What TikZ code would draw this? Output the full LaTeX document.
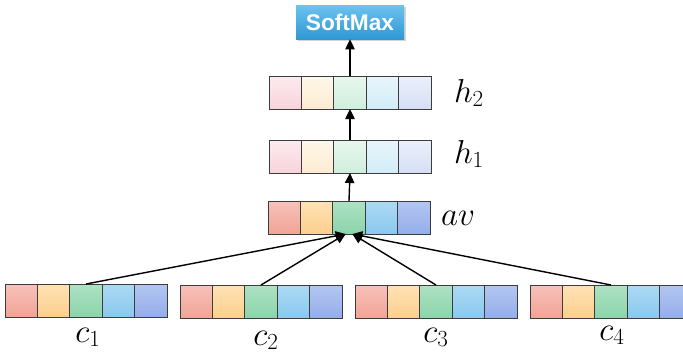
\documentclass[tikz,border=0pt]{standalone}
\usepackage{fontspec}
\newfontfamily\boldsans{Liberation Sans}
\usetikzlibrary{arrows.meta,shadows}
\definecolor{rT}{HTML}{F7C2BA}\definecolor{rB}{HTML}{F2A396}
\definecolor{oT}{HTML}{FEE2B4}\definecolor{oB}{HTML}{FCCF8E}
\definecolor{gT}{HTML}{AEE2C4}\definecolor{gB}{HTML}{8BD4AA}
\definecolor{bT}{HTML}{ACDAF4}\definecolor{bB}{HTML}{8AC8EE}
\definecolor{pT}{HTML}{B4C6F2}\definecolor{pB}{HTML}{94AEEA}
\definecolor{rTl}{HTML}{FCEBEE}\definecolor{rBl}{HTML}{F8D3DB}
\definecolor{oTl}{HTML}{FFF7EA}\definecolor{oBl}{HTML}{FDEBD2}
\definecolor{gTl}{HTML}{E8F7EE}\definecolor{gBl}{HTML}{D0EEDC}
\definecolor{bTl}{HTML}{E9F5FC}\definecolor{bBl}{HTML}{D2ECF8}
\definecolor{pTl}{HTML}{EBF0FA}\definecolor{pBl}{HTML}{D5DFF5}
\definecolor{smT}{HTML}{6CC3EE}\definecolor{smB}{HTML}{2F98D4}
\definecolor{edge}{HTML}{3C3C3C}
\tikzset{
  cell/.style={draw=edge, line width=0.75pt, minimum width=24.3pt, minimum height=24.75pt,
    inner sep=0pt, outer sep=0pt, anchor=north west},
  r/.style={top color=rT, bottom color=rB}, o/.style={top color=oT, bottom color=oB},
  g/.style={top color=gT, bottom color=gB}, b/.style={top color=bT, bottom color=bB},
  p/.style={top color=pT, bottom color=pB},
  rl/.style={top color=rTl, bottom color=rBl}, ol/.style={top color=oTl, bottom color=oBl},
  gl/.style={top color=gTl, bottom color=gBl}, bl/.style={top color=bTl, bottom color=bBl},
  pl/.style={top color=pTl, bottom color=pBl},
  lab/.style={anchor=base, inner sep=0pt, font=\fontsize{24}{26}\selectfont},
  arr/.style={line width=1.05pt, -{Triangle[length=7.5pt,width=7pt]}},
  smbox/.style={top color=smT, bottom color=smB, draw=none, minimum width=81pt,
    minimum height=25.5pt, inner sep=0pt, font=\boldsans\bfseries\fontsize{17}{18}\selectfont,
    text=white, drop shadow={shadow xshift=1.2pt, shadow yshift=-1.2pt, opacity=0.35}}
}
\newcommand{\cellrow}[4]{% name, x, y, suffix
  \foreach \i/\c in {1/r,2/o,3/g,4/b,5/p}{
    \node[cell, \c#4] (#1-\i) at ({#2+(\i-1)*32.4},#3) {};
  }
}
\begin{document}
\begin{tikzpicture}[x=0.75pt,y=-0.75pt]
\useasboundingbox (0,0) rectangle (683,354);
\begin{scope}
\clip (0,0) rectangle (683,354);
% bottom rows
\cellrow{ca}{5}{284}{}
\cellrow{cb}{180}{285}{}
\cellrow{cc}{355}{285}{}
\cellrow{cd}{530}{285}{}
% upper rows
\cellrow{av}{268}{201}{}
\cellrow{ha}{269}{140}{l}
\cellrow{hb}{269}{76}{l}
\end{scope}
% softmax
\node[smbox] (sm) at (350,22) {SoftMax};
% labels
\node[lab] (lc1) at (88,342) {$c_1$};
\node[lab] (lc2) at (266,345) {$c_2$};
\node[lab] (lc3) at (436,342) {$c_3$};
\node[lab] (lc4) at (612,340) {$c_4$};
\node[lab] (lav) at (458,225) {$av$};
\node[lab] (lh1) at (469,163) {$h_1$};
\node[lab] (lh2) at (469,102) {$h_2$};
% arrows
\coordinate (inL) at ([xshift=-2.5pt]av-3.south);
\coordinate (inR) at ([xshift=2.5pt]av-3.south);
\draw[arr] (ca-3.north) -- (inL);
\draw[arr] (cb-3.north) -- (inL);
\draw[arr] (cc-3.north) -- (inR);
\draw[arr] (cd-3.north) -- (inR);
\draw[arr] (av-3.north) -- (ha-3.south);
\draw[arr] (ha-3.north) -- (hb-3.south);
\draw[arr] (hb-3.north) -- (sm.south -| hb-3.north);
\end{tikzpicture}
\end{document}
